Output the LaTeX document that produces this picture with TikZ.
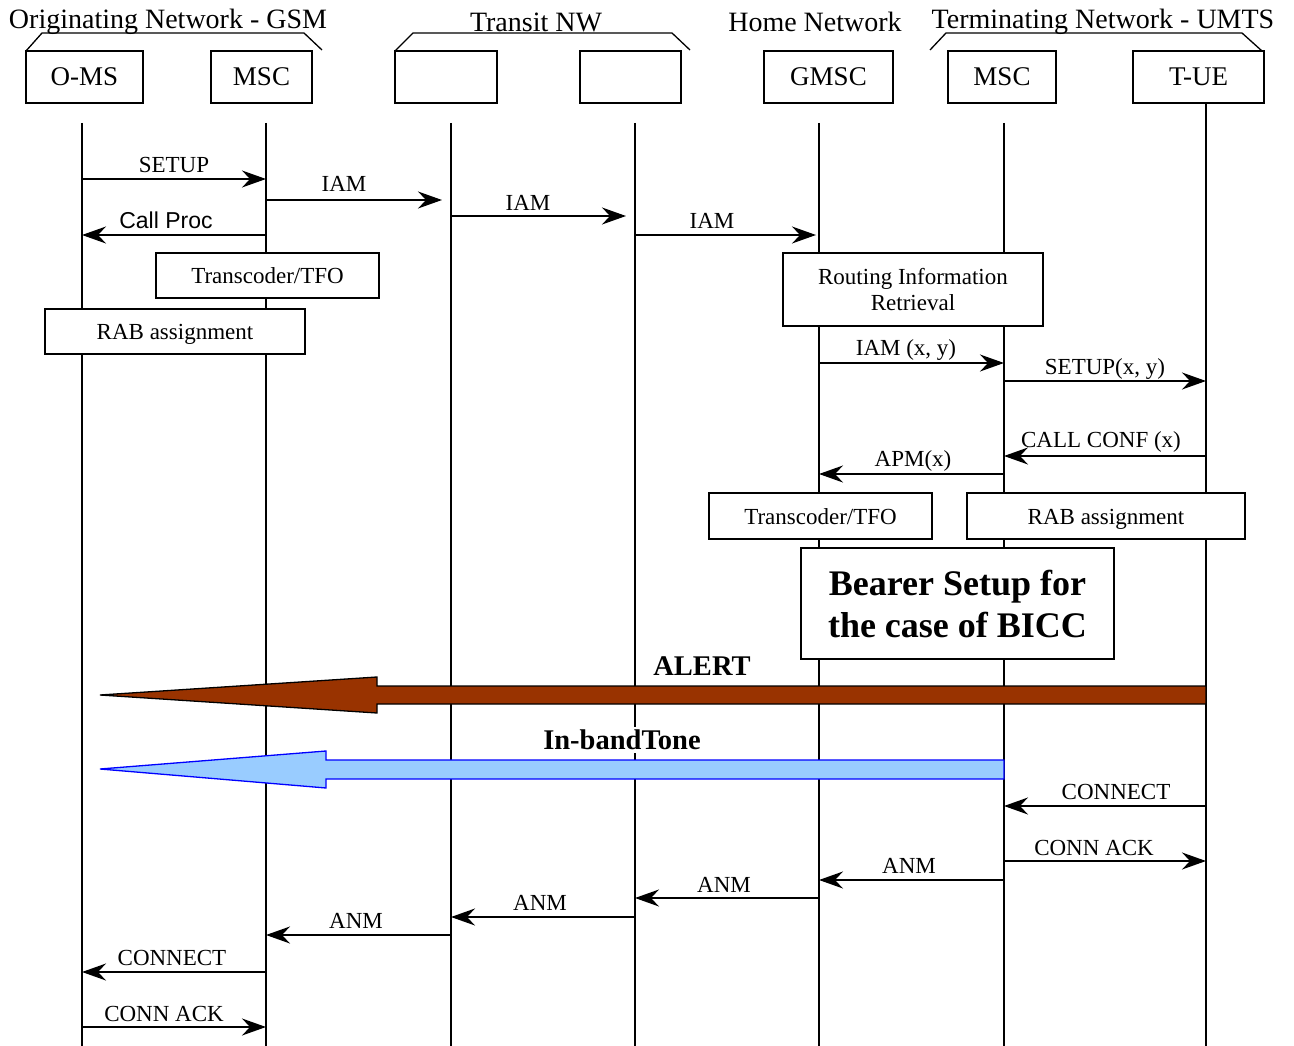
\documentclass[tikz,border=0pt]{standalone}
\usepackage{fontspec}
\setmainfont{Liberation Serif}
\newfontfamily\arialfont{Liberation Sans}
\usetikzlibrary{arrows.meta}

\definecolor{alertbrown}{RGB}{153,51,0}
\definecolor{tonefill}{RGB}{153,204,255}
\definecolor{toneline}{RGB}{0,0,255}

\tikzset{
  entity/.style={draw, line width=1.3pt, inner sep=0pt, minimum height=52pt, font=\fontsize{27}{30}\selectfont},
  lifeline/.style={line width=1.3pt},
  bracket/.style={line width=1.3pt},
  msg/.style={line width=1.6pt, -{Stealth[length=24pt, width=17pt, inset=8pt]}},
  lbl/.style={font=\fontsize{23}{26}\selectfont, inner sep=0pt},
  actbox/.style={draw, fill=white, line width=1.3pt, inner sep=0pt, align=center, font=\fontsize{23}{26}\selectfont},
  onebox/.style={actbox, text height=19pt, text depth=3pt},
  netlabel/.style={font=\fontsize{28}{31}\selectfont, inner sep=0pt},
  bigarrow/.style={line width=1.3pt, line join=miter},
  biglbl/.style={font=\fontsize{28.5}{31}\selectfont\bfseries, inner sep=3pt},
}

\begin{document}
\begin{tikzpicture}[x=1pt, y=-1pt]
    \useasboundingbox (0,0) rectangle (1294,1046);

    % Lifelines
    \foreach \n/\x in {oms/82, msca/266, tra/451, trb/635, gmsc/819, mscb/1004}{
        \coordinate (\n) at (\x,0);
        \draw [lifeline] (\x,123) -- (\x,1046);
    }
    \coordinate (tue) at (1206,0);
    \draw [lifeline] (1206,103) -- (1206,1046);

    % Entities
    \node[entity, minimum width=117pt] (omsbox) at (84.5,77) {O-MS};
    \node[entity, minimum width=101pt] (mscabox) at (261.5,77) {MSC};
    \node[entity, minimum width=102pt] (trabox) at (446,77) {};
    \node[entity, minimum width=101pt] (trbbox) at (630.5,77) {};
    \node[entity, minimum width=129pt] (gmscbox) at (828.5,77) {GMSC};
    \node[entity, minimum width=108pt] (mscbbox) at (1002,77) {MSC};
    \node[entity, minimum width=131pt] (tuebox) at (1198.5,77) {T-UE};

    % Networks
    \draw [bracket] (26,51) -- (42,33) -- (304,33) -- (322,50);
    \draw [bracket] (395,51) -- (413,33) -- (672,33) -- (690,50);
    \draw [bracket] (930,50) -- (946,33) -- (1242,33) -- (1262,51);
    \node[netlabel] (orignet) at (168,22) {Originating Network - GSM};
    \node[netlabel] (transnet) at (536,22) {Transit NW};
    \node[netlabel] (homenet) at (815,22) {Home Network};
    \node[netlabel] (termnet) at (1103,22) {Terminating Network - UMTS};

    % Call setup
    \draw [msg] (oms |- 0,179) -- (msca |- 0,179);
    \node[lbl] (lsetup) at (174,165) {SETUP};
    \draw [msg, shorten >=9pt] (msca |- 0,200) -- (tra |- 0,200);
    \node[lbl] (liama) at (344,184) {IAM};
    \draw [msg, shorten >=9pt] (tra |- 0,216) -- (trb |- 0,216);
    \node[lbl] (liamb) at (528,203) {IAM};
    \draw [msg, shorten >=3pt] (trb |- 0,235) -- (gmsc |- 0,235);
    \node[lbl] (liamc) at (712,221) {IAM};
    \draw [msg] (msca |- 0,235) -- (oms |- 0,235);
    \node[lbl, font=\arialfont\fontsize{23}{26}\selectfont] (lproc) at (166,220) {Call Proc};

    \node[onebox, minimum width=223pt, minimum height=45pt] (tfoa) at (267.5,275.5) {Transcoder/TFO};
    \node[onebox, minimum width=260pt, minimum height=45pt] (raba) at (175,331.5) {RAB assignment};
    \node[actbox, minimum width=260pt, minimum height=73pt] (routing) at (913,289.5) {Routing Information\\Retrieval};

    \draw [msg] (gmsc |- 0,363) -- (mscb |- 0,363);
    \node[lbl] (liamxy) at (906,350) {IAM (x, y)};
    \draw [msg] (mscb |- 0,381) -- (tue |- 0,381);
    \node[lbl] (lsetupxy) at (1105,369) {SETUP(x, y)};
    \draw [msg] (tue |- 0,456) -- (mscb |- 0,456);
    \node[lbl] (lconf) at (1101,442) {CALL CONF (x)};
    \draw [msg] (mscb |- 0,474) -- (gmsc |- 0,474);
    \node[lbl] (lapm) at (913,461) {APM(x)};

    \node[onebox, minimum width=223pt, minimum height=46pt] (tfob) at (820.5,516) {Transcoder/TFO};
    \node[onebox, minimum width=278pt, minimum height=46pt] (rabb) at (1106,516) {RAB assignment};
    \node[actbox, minimum width=313pt, minimum height=111pt, font=\fontsize{36}{42}\selectfont\bfseries] (bearer) at (957.5,603.5) {Bearer Setup for\\the case of BICC};

    % Alerting
    \draw [bigarrow, fill=alertbrown] (1206,686) -- (377,686) -- (377,677) -- (100,695) -- (377,713) -- (377,704) -- (1206,704) -- cycle;
    \node[biglbl] (lalert) at (702,666) {ALERT};
    \node[biglbl, fill=white] (ltone) at (622,740) {In-bandTone};
    \draw [bigarrow, draw=toneline, fill=tonefill] (1004,760) -- (326,760) -- (326,751) -- (100,769) -- (326,788) -- (326,779) -- (1004,779) -- cycle;

    % Answer
    \draw [msg] (tue |- 0,806) -- (mscb |- 0,806);
    \node[lbl] (lconna) at (1116,792) {CONNECT};
    \draw [msg] (mscb |- 0,861) -- (tue |- 0,861);
    \node[lbl] (lacka) at (1094,848) {CONN ACK};
    \draw [msg] (mscb |- 0,880) -- (gmsc |- 0,880);
    \node[lbl] (lanma) at (909,866) {ANM};
    \draw [msg] (gmsc |- 0,898) -- (trb |- 0,898);
    \node[lbl] (lanmb) at (724,885) {ANM};
    \draw [msg] (trb |- 0,917) -- (tra |- 0,917);
    \node[lbl] (lanmc) at (540,903) {ANM};
    \draw [msg] (tra |- 0,935) -- (msca |- 0,935);
    \node[lbl] (lanmd) at (356,921) {ANM};
    \draw [msg] (msca |- 0,972) -- (oms |- 0,972);
    \node[lbl] (lconnb) at (172,958) {CONNECT};
    \draw [msg] (oms |- 0,1027) -- (msca |- 0,1027);
    \node[lbl] (lackb) at (164,1014) {CONN ACK};
\end{tikzpicture}
\end{document}
